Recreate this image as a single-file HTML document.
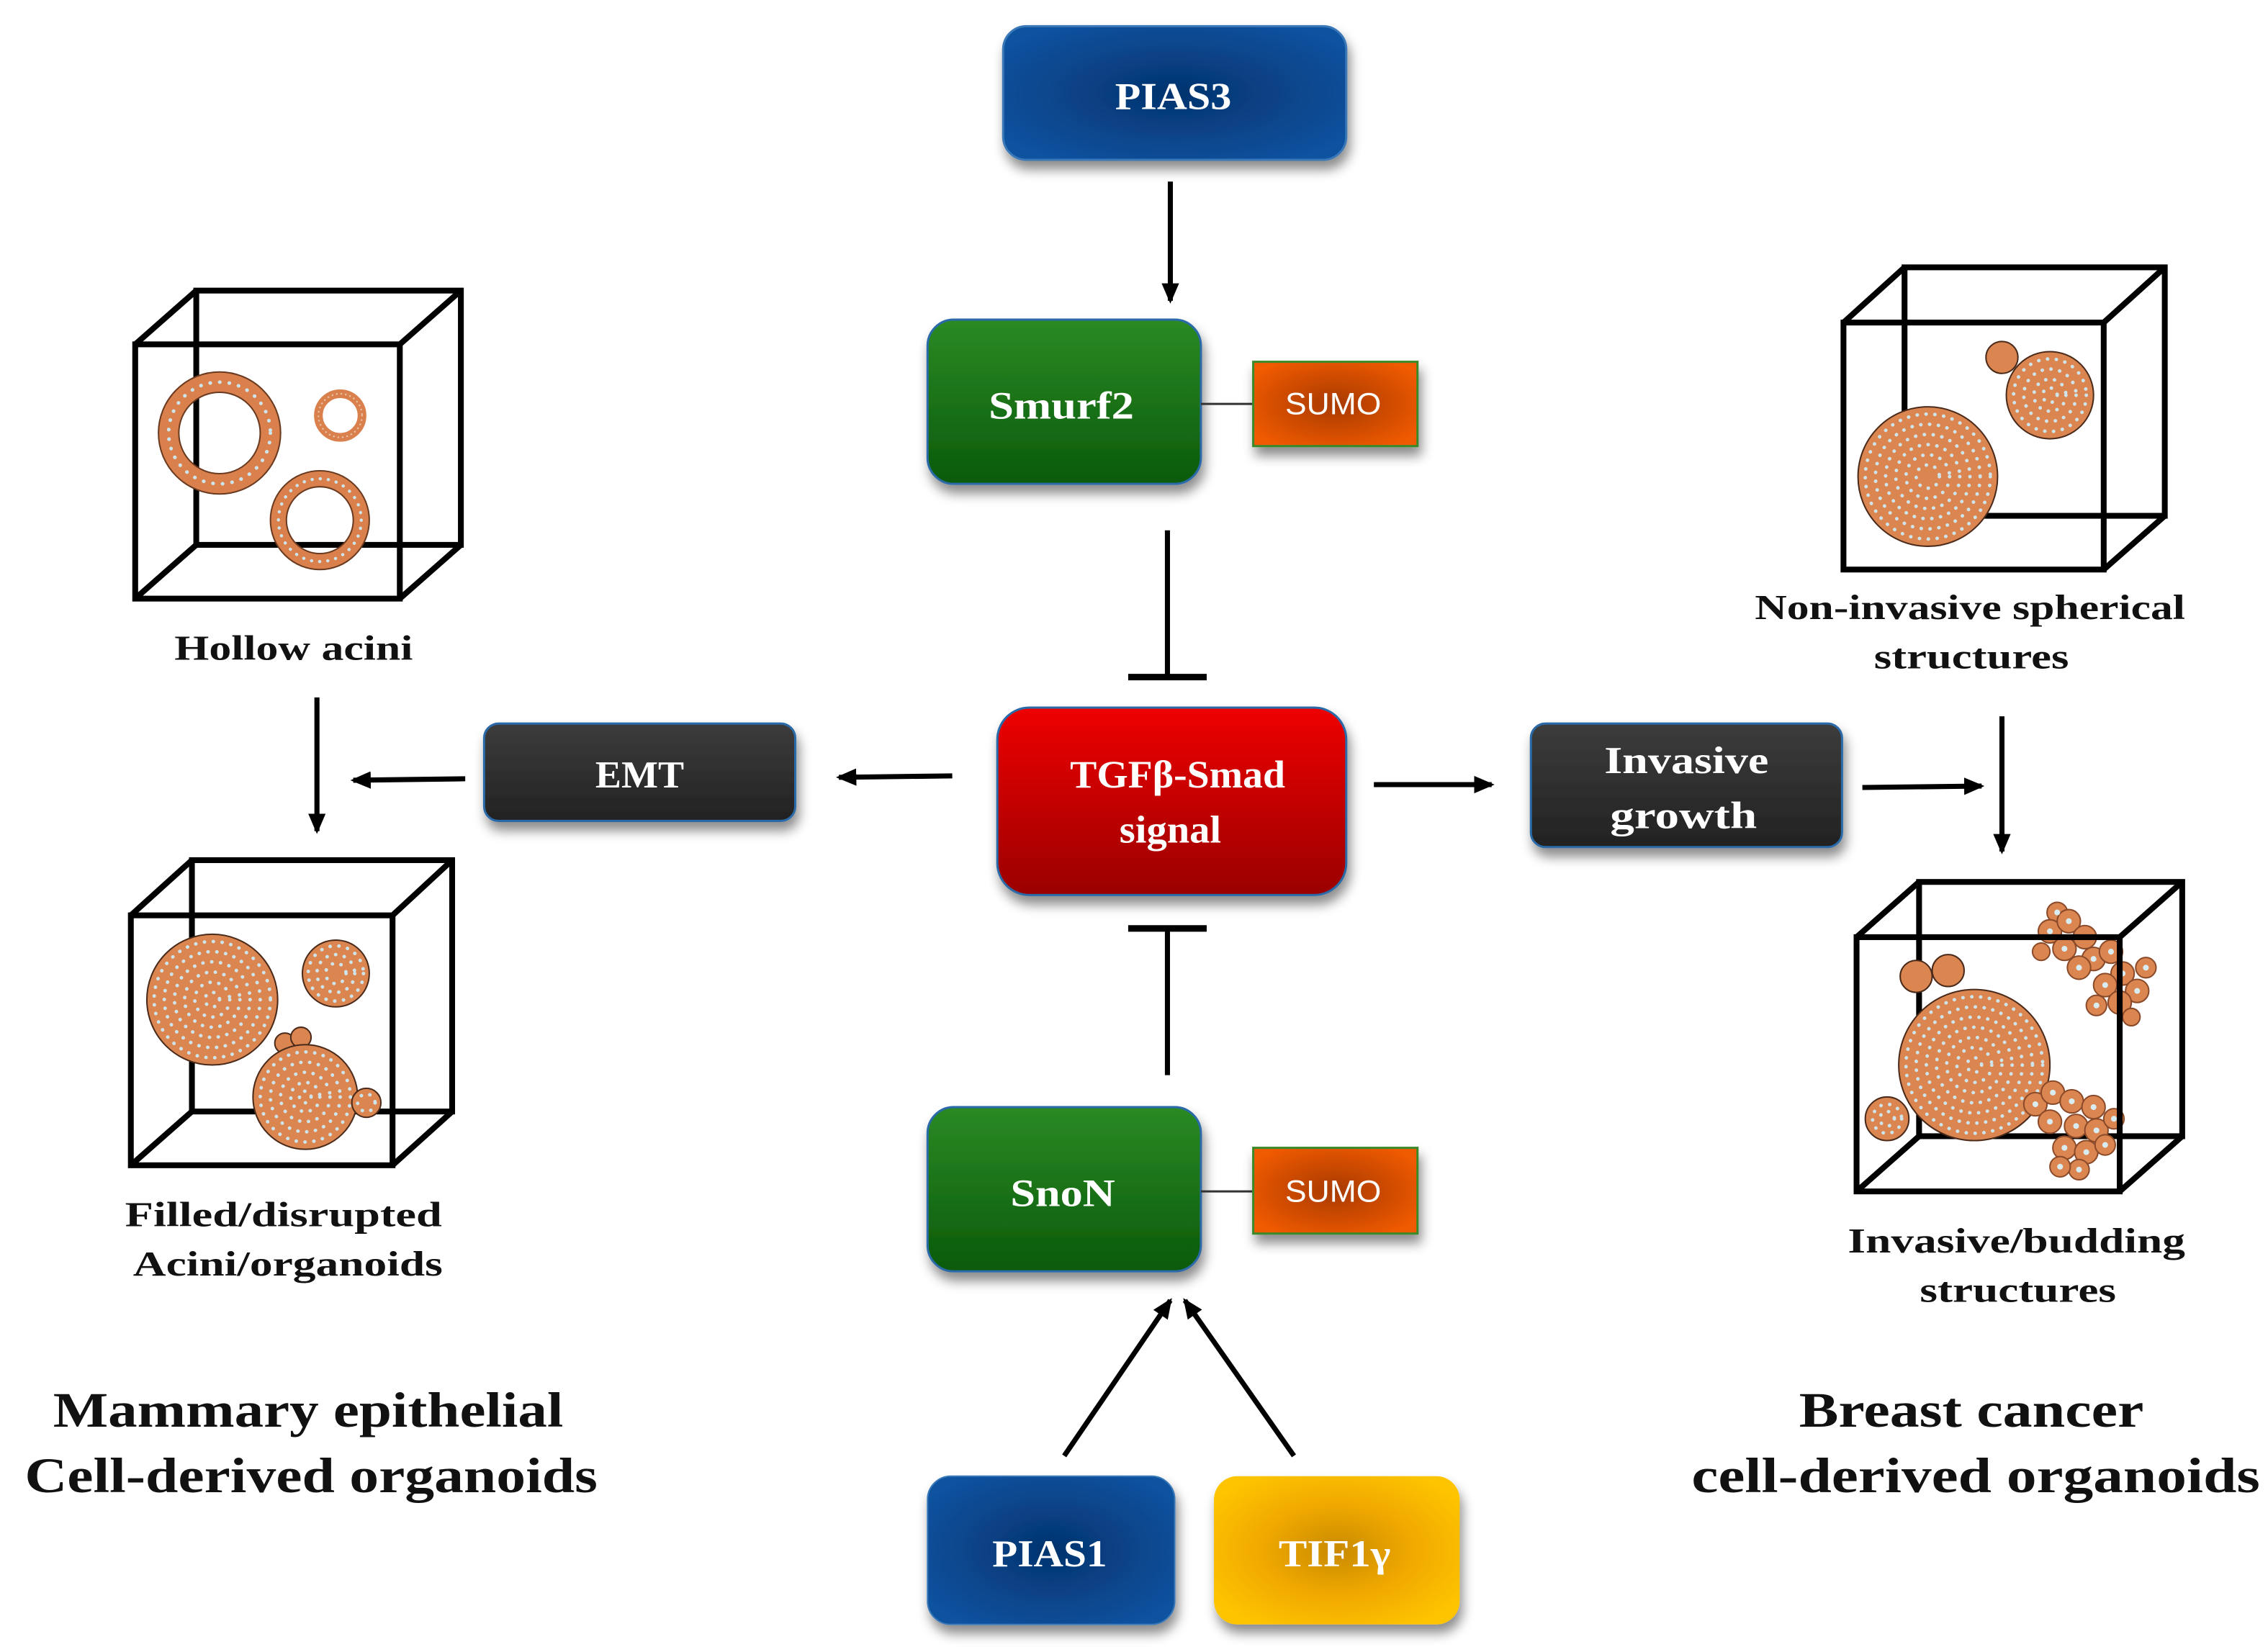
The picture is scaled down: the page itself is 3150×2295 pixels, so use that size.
<!DOCTYPE html>
<html><head><meta charset="utf-8"><style>
html,body{margin:0;padding:0;background:#fff;}
svg{display:block;}
.bx{font-family:"Liberation Serif",serif;font-weight:bold;fill:#fff;text-anchor:middle;}
.lb{font-family:"Liberation Serif",serif;font-weight:bold;fill:#111;text-anchor:middle;}
.sm{font-family:"Liberation Sans",sans-serif;fill:#fff;text-anchor:middle;font-size:21px;}
</style></head><body>
<svg width="3150" height="2295" viewBox="0 0 1560 1137" preserveAspectRatio="none" xmlns="http://www.w3.org/2000/svg">
<defs>
<radialGradient id="gBlue" cx="50%" cy="50%" r="60%"><stop offset="0" stop-color="#05336e"/><stop offset="1" stop-color="#0a52a0"/></radialGradient>
<radialGradient id="gYel" cx="50%" cy="50%" r="60%"><stop offset="0" stop-color="#c88a00"/><stop offset="0.5" stop-color="#f0a800"/><stop offset="1" stop-color="#ffc400"/></radialGradient>
<radialGradient id="gOr" cx="50%" cy="50%" r="60%"><stop offset="0" stop-color="#a83a00"/><stop offset="1" stop-color="#f05a00"/></radialGradient>
<linearGradient id="gGreen" x1="0" y1="0" x2="0" y2="1"><stop offset="0" stop-color="#2a8a24"/><stop offset="1" stop-color="#0b5a0b"/></linearGradient>
<linearGradient id="gRed" x1="0" y1="0" x2="0" y2="1"><stop offset="0" stop-color="#ee0000"/><stop offset="1" stop-color="#9a0000"/></linearGradient>
<linearGradient id="gDark" x1="0" y1="0" x2="0" y2="1"><stop offset="0" stop-color="#3c3c3c"/><stop offset="1" stop-color="#222"/></linearGradient>
<filter id="sh" x="-10%" y="-10%" width="125%" height="135%"><feDropShadow dx="2" dy="6" stdDeviation="4" flood-color="#000" flood-opacity="0.45"/></filter>
<marker id="ar" markerWidth="14" markerHeight="14" refX="12" refY="7" orient="auto" markerUnits="userSpaceOnUse"><path d="M0,1 L14,7 L0,13 Z" fill="#000"/></marker>
</defs>

<rect x="690" y="18" width="236" height="92" rx="16" fill="url(#gBlue)" stroke="#3a78b8" stroke-width="1.5" filter="url(#sh)"/>
<text x="807" y="75" class="bx" font-size="26" textLength="80" lengthAdjust="spacingAndGlyphs">PIAS3</text>

<rect x="638" y="220" width="188" height="113" rx="18" fill="url(#gGreen)" stroke="#2a6aa8" stroke-width="1.5" filter="url(#sh)"/>
<text x="730" y="288" class="bx" font-size="27" textLength="100" lengthAdjust="spacingAndGlyphs">Smurf2</text>
<line x1="826" y1="278" x2="862" y2="278" stroke="#333" stroke-width="1.5"/>
<rect x="862" y="249" width="113" height="58" fill="url(#gOr)" stroke="#3a8a2a" stroke-width="1.5" filter="url(#sh)"/>
<text x="917" y="285" class="sm" textLength="66" lengthAdjust="spacingAndGlyphs">SUMO</text>

<rect x="686" y="487" width="240" height="129" rx="22" fill="url(#gRed)" stroke="#2a6aa8" stroke-width="1.5" filter="url(#sh)"/>
<text x="810" y="542" class="bx" font-size="27" textLength="148" lengthAdjust="spacingAndGlyphs">TGFβ-Smad</text>
<text x="805" y="580" class="bx" font-size="27" font-family="Liberation Sans" textLength="70" lengthAdjust="spacingAndGlyphs">signal</text>

<rect x="333" y="498" width="214" height="67" rx="10" fill="url(#gDark)" stroke="#2a6aa8" stroke-width="1.5" filter="url(#sh)"/>
<text x="440" y="542" class="bx" font-size="26" textLength="61" lengthAdjust="spacingAndGlyphs">EMT</text>

<rect x="1053" y="498" width="214" height="85" rx="10" fill="url(#gDark)" stroke="#2a6aa8" stroke-width="1.5" filter="url(#sh)"/>
<text x="1160" y="532" class="bx" font-size="26" textLength="113" lengthAdjust="spacingAndGlyphs">Invasive</text>
<text x="1158" y="570" class="bx" font-size="26" textLength="101" lengthAdjust="spacingAndGlyphs">growth</text>

<rect x="638" y="762" width="188" height="113" rx="18" fill="url(#gGreen)" stroke="#2a6aa8" stroke-width="1.5" filter="url(#sh)"/>
<text x="731" y="830" class="bx" font-size="27" textLength="72" lengthAdjust="spacingAndGlyphs">SnoN</text>
<line x1="826" y1="820" x2="862" y2="820" stroke="#333" stroke-width="1.5"/>
<rect x="862" y="790" width="113" height="59" fill="url(#gOr)" stroke="#3a8a2a" stroke-width="1.5" filter="url(#sh)"/>
<text x="917" y="827" class="sm" textLength="66" lengthAdjust="spacingAndGlyphs">SUMO</text>

<rect x="638" y="1016" width="170" height="102" rx="16" fill="url(#gBlue)" stroke="#3a78b8" stroke-width="1" filter="url(#sh)"/>
<text x="722" y="1078" class="bx" font-size="26" textLength="79" lengthAdjust="spacingAndGlyphs">PIAS1</text>
<rect x="835" y="1016" width="169" height="102" rx="16" fill="url(#gYel)" filter="url(#sh)"/>
<text x="918" y="1078" class="bx" font-size="26" textLength="77" lengthAdjust="spacingAndGlyphs">TIF1γ</text>

<g stroke="#000" stroke-width="3.5" fill="none">
<line x1="805" y1="125" x2="805" y2="207" marker-end="url(#ar)"/>
<line x1="803" y1="365" x2="803" y2="466"/><line x1="776" y1="466" x2="830" y2="466" stroke-width="4.5"/>
<line x1="803" y1="740" x2="803" y2="639"/><line x1="776" y1="639" x2="830" y2="639" stroke-width="4.5"/>
<line x1="655" y1="534" x2="577" y2="535" marker-end="url(#ar)"/>
<line x1="320" y1="536" x2="243" y2="537" marker-end="url(#ar)"/>
<line x1="218" y1="480" x2="218" y2="572" marker-end="url(#ar)"/>
<line x1="945" y1="540" x2="1026" y2="540" marker-end="url(#ar)"/>
<line x1="1281" y1="542" x2="1363" y2="541" marker-end="url(#ar)"/>
<line x1="1377" y1="493" x2="1377" y2="586" marker-end="url(#ar)"/>
<line x1="732" y1="1002" x2="805" y2="895" marker-end="url(#ar)"/>
<line x1="890" y1="1002" x2="815" y2="895" marker-end="url(#ar)"/>
</g>

<g stroke="#000" stroke-width="4" fill="none">
<rect x="135" y="200" width="182" height="175"/>
<rect x="132" y="592" width="179" height="173"/>
<rect x="1310" y="184" width="179" height="171"/>
<rect x="1320" y="607" width="181" height="175"/>
</g>

<g>
<circle cx="151" cy="298" r="35" fill="none" stroke="#d9804c" stroke-width="14"/>
<circle cx="151" cy="298" r="42" fill="none" stroke="#6a3a20" stroke-width="1"/>
<circle cx="151" cy="298" r="28" fill="none" stroke="#6a3a20" stroke-width="1"/>
<circle cx="151" cy="298" r="35" fill="none" stroke="#cfe4ea" stroke-width="2.5" stroke-dasharray="0.1 6.5" stroke-linecap="round"/>
<circle cx="234" cy="286" r="15" fill="none" stroke="#d9804c" stroke-width="6"/>
<circle cx="234" cy="286" r="15" fill="none" stroke="#e8c0a0" stroke-width="1.2" stroke-dasharray="0.1 3" stroke-linecap="round"/>
<circle cx="220" cy="358" r="28.5" fill="none" stroke="#d9804c" stroke-width="11"/>
<circle cx="220" cy="358" r="34" fill="none" stroke="#6a3a20" stroke-width="1"/>
<circle cx="220" cy="358" r="23" fill="none" stroke="#6a3a20" stroke-width="1"/>
<circle cx="220" cy="358" r="28.5" fill="none" stroke="#cfe4ea" stroke-width="2.2" stroke-dasharray="0.1 5.5" stroke-linecap="round"/>
</g>

<g fill="#db8650" stroke="#4a2a1a" stroke-width="1">
<circle cx="146" cy="688" r="45"/><circle cx="231" cy="670" r="23"/><circle cx="196" cy="718" r="7"/><circle cx="207" cy="714" r="7"/><circle cx="210" cy="755" r="36"/><circle cx="252" cy="759" r="10"/>
<circle cx="1377" cy="246" r="11"/><circle cx="1326" cy="328" r="48"/><circle cx="1410" cy="272" r="30"/>
<circle cx="1318" cy="672" r="11"/><circle cx="1340" cy="668" r="11"/><circle cx="1298" cy="770" r="15"/><circle cx="1358" cy="733" r="52"/>
</g>
<g fill="none" stroke="#cfe4ea" stroke-width="2.4" stroke-dasharray="0.1 6" stroke-linecap="round">
<circle cx="146" cy="688" r="40"/><circle cx="146" cy="688" r="33"/><circle cx="146" cy="688" r="26"/><circle cx="146" cy="688" r="19"/><circle cx="146" cy="688" r="12"/><circle cx="146" cy="688" r="5"/>
<circle cx="231" cy="670" r="19"/><circle cx="231" cy="670" r="13"/><circle cx="231" cy="670" r="7"/>
<circle cx="210" cy="755" r="31"/><circle cx="210" cy="755" r="24"/><circle cx="210" cy="755" r="17"/><circle cx="210" cy="755" r="10"/><circle cx="210" cy="755" r="4"/>
<circle cx="252" cy="759" r="6"/><circle cx="1298" cy="770" r="10"/><circle cx="1298" cy="770" r="5"/>
<circle cx="1326" cy="328" r="43"/><circle cx="1326" cy="328" r="36"/><circle cx="1326" cy="328" r="29"/><circle cx="1326" cy="328" r="22"/><circle cx="1326" cy="328" r="15"/><circle cx="1326" cy="328" r="8"/>
<circle cx="1410" cy="272" r="25"/><circle cx="1410" cy="272" r="18"/><circle cx="1410" cy="272" r="11"/><circle cx="1410" cy="272" r="5"/>
<circle cx="1358" cy="733" r="47"/><circle cx="1358" cy="733" r="40"/><circle cx="1358" cy="733" r="33"/><circle cx="1358" cy="733" r="26"/><circle cx="1358" cy="733" r="19"/><circle cx="1358" cy="733" r="12"/><circle cx="1358" cy="733" r="5"/>
</g>
<g fill="#db8650" stroke="#8a4a2a" stroke-width="1">
<circle cx="1415" cy="628" r="7"/><circle cx="1410" cy="641" r="8"/><circle cx="1423" cy="634" r="8"/><circle cx="1434" cy="645" r="8"/><circle cx="1420" cy="653" r="8"/><circle cx="1440" cy="660" r="8"/><circle cx="1452" cy="655" r="8"/><circle cx="1430" cy="666" r="8"/><circle cx="1460" cy="670" r="8"/><circle cx="1448" cy="678" r="8"/><circle cx="1470" cy="682" r="8"/><circle cx="1458" cy="690" r="8"/><circle cx="1476" cy="666" r="7"/><circle cx="1442" cy="692" r="7"/><circle cx="1404" cy="655" r="6"/><circle cx="1466" cy="700" r="6"/>
<circle cx="1400" cy="760" r="8"/><circle cx="1412" cy="752" r="8"/><circle cx="1425" cy="758" r="8"/><circle cx="1440" cy="762" r="8"/><circle cx="1410" cy="772" r="8"/><circle cx="1428" cy="775" r="8"/><circle cx="1442" cy="778" r="8"/><circle cx="1454" cy="770" r="7"/><circle cx="1420" cy="790" r="8"/><circle cx="1435" cy="793" r="8"/><circle cx="1448" cy="788" r="7"/><circle cx="1430" cy="805" r="7"/><circle cx="1417" cy="803" r="7"/>
</g>
<g fill="#d8ecf2">
<circle cx="1415" cy="628" r="2"/><circle cx="1410" cy="641" r="2"/><circle cx="1423" cy="634" r="2"/><circle cx="1434" cy="645" r="2"/><circle cx="1420" cy="653" r="2"/><circle cx="1440" cy="660" r="2"/><circle cx="1452" cy="655" r="2"/><circle cx="1430" cy="666" r="2"/><circle cx="1460" cy="670" r="2"/><circle cx="1448" cy="678" r="2"/><circle cx="1470" cy="682" r="2"/><circle cx="1458" cy="690" r="2"/><circle cx="1476" cy="666" r="2"/><circle cx="1442" cy="692" r="2"/>
<circle cx="1400" cy="760" r="2"/><circle cx="1412" cy="752" r="2"/><circle cx="1425" cy="758" r="2"/><circle cx="1440" cy="762" r="2"/><circle cx="1410" cy="772" r="2"/><circle cx="1428" cy="775" r="2"/><circle cx="1442" cy="778" r="2"/><circle cx="1454" cy="770" r="2"/><circle cx="1420" cy="790" r="2"/><circle cx="1435" cy="793" r="2"/><circle cx="1448" cy="788" r="2"/><circle cx="1430" cy="805" r="2"/><circle cx="1417" cy="803" r="2"/>
</g>

<g stroke="#000" stroke-width="4" fill="none" stroke-linejoin="miter">
<rect x="93" y="237" width="182" height="175"/>
<path d="M93,237 L135,200 M275,237 L317,200 M275,412 L317,375 M93,412 L135,375"/>
<rect x="90" y="630" width="180" height="172"/>
<path d="M90,630 L132,592 M270,630 L311,592 M270,802 L311,765 M90,802 L132,765"/>
<rect x="1268" y="222" width="179" height="170"/>
<path d="M1268,222 L1310,184 M1447,222 L1489,184 M1447,392 L1489,355"/>
<rect x="1277" y="645" width="181" height="175"/>
<path d="M1277,645 L1320,607 M1458,645 L1501,607 M1458,820 L1501,782 M1277,820 L1320,782"/>
</g>

<text x="202" y="454" class="lb" font-size="24" textLength="164" lengthAdjust="spacingAndGlyphs">Hollow acini</text>
<text x="195" y="844" class="lb" font-size="24" textLength="218" lengthAdjust="spacingAndGlyphs">Filled/disrupted</text>
<text x="198" y="878" class="lb" font-size="24" textLength="213" lengthAdjust="spacingAndGlyphs">Acini/organoids</text>
<text x="1355" y="426" class="lb" font-size="24" textLength="296" lengthAdjust="spacingAndGlyphs">Non-invasive spherical</text>
<text x="1356" y="460" class="lb" font-size="24" textLength="134" lengthAdjust="spacingAndGlyphs">structures</text>
<text x="1387" y="862" class="lb" font-size="24" textLength="232" lengthAdjust="spacingAndGlyphs">Invasive/budding</text>
<text x="1388" y="896" class="lb" font-size="24" textLength="135" lengthAdjust="spacingAndGlyphs">structures</text>
<text x="212" y="982" class="lb" font-size="34" textLength="351" lengthAdjust="spacingAndGlyphs">Mammary epithelial</text>
<text x="214" y="1027" class="lb" font-size="34" textLength="394" lengthAdjust="spacingAndGlyphs">Cell-derived organoids</text>
<text x="1356" y="982" class="lb" font-size="34" textLength="237" lengthAdjust="spacingAndGlyphs">Breast cancer</text>
<text x="1359" y="1027" class="lb" font-size="34" textLength="391" lengthAdjust="spacingAndGlyphs">cell-derived organoids</text>
</svg>
</body></html>
